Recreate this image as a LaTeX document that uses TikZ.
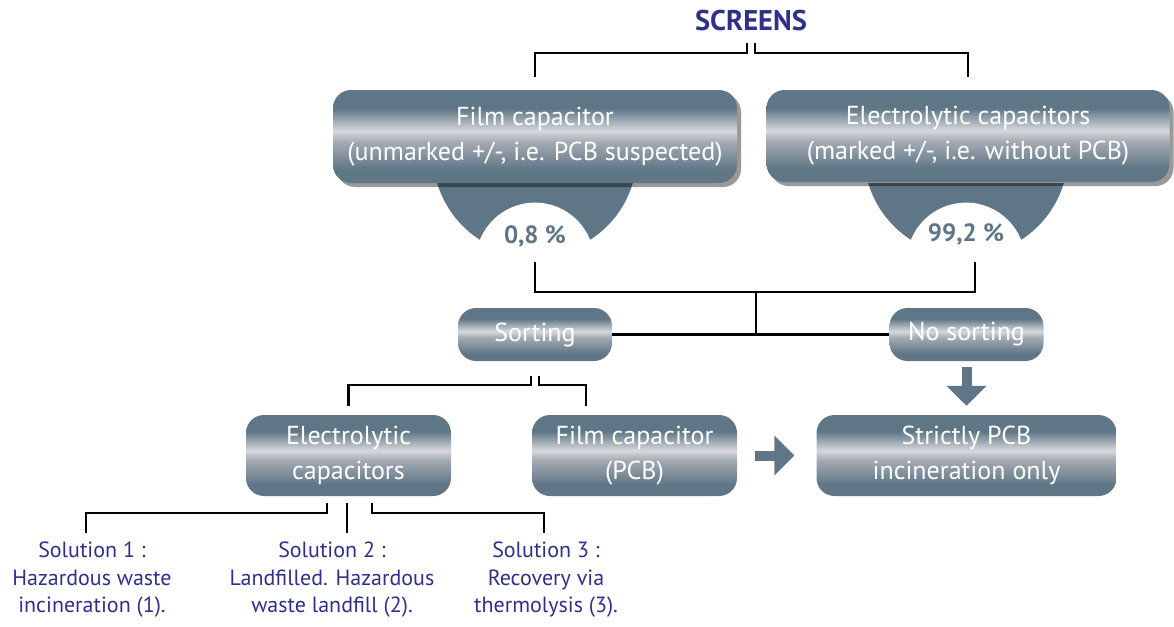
\documentclass[tikz,border=0pt]{standalone}
\usepackage{fontspec}
\setmainfont{PT Sans}
\usetikzlibrary{arrows.meta, positioning, shadows}

\definecolor{slate}{HTML}{5F7686}
\definecolor{silver}{HTML}{D6D8DC}
\definecolor{steel}{HTML}{A3AAB2}
\definecolor{navy}{HTML}{2E3187}

\pgfdeclareverticalshading{capshade}{100bp}{color(0bp)=(slate); color(32bp)=(slate); color(47bp)=(steel); color(53bp)=(silver); color(65bp)=(slate); color(100bp)=(slate)}

\tikzset{
  capbox/.style={rectangle, rounded corners=18pt, shading=capshade, text=white, align=center, inner sep=0pt, font=\fontsize{26}{35}\selectfont},
  topbox/.style={capbox, drop shadow={shadow xshift=4pt, shadow yshift=-4pt, opacity=0.4, fill=black}},
  link/.style={line width=2.8pt},
  bigarrow/.style={draw=slate, line width=10pt, -{Triangle[width=39pt,length=20pt]}},
  pct/.style={text=slate, font=\bfseries\fontsize{25}{25}\selectfont},
  solution/.style={text=navy, align=center, font=\fontsize{22}{27.5}\selectfont}
}

\begin{document}
\begin{tikzpicture}[x=1pt, y=1pt]
\useasboundingbox (0,0) rectangle (1174,-626);

\node[text=navy, font=\bfseries\fontsize{28.5}{28.5}\selectfont] (screens) at (751,-21) {SCREENS};

% half discs under the two top boxes
\begin{scope}
\clip (300,-183) rectangle (1174,-330);
\fill[slate] (535,-154) circle[radius=102pt];
\fill[slate] (966,-154) circle[radius=102pt];
\end{scope}
\fill[white] (535,-262) circle[radius=59.4pt];
\fill[white] (966,-262) circle[radius=59.4pt];

\node[topbox, minimum width=404pt, minimum height=93pt] (film) at (535,-136.5) {Film capacitor\\(unmarked +/-, i.e. PCB suspected)};
\node[topbox, minimum width=403pt, minimum height=92pt] (elec) at (968,-136) {Electrolytic capacitors\\(marked +/-, i.e. without PCB)};

\node[pct] (pctL) at (535,-236) {0,8 \%};
\node[pct] (pctR) at (966,-234) {99,2 \%};

\node[capbox, minimum width=154pt, minimum height=53pt] (sorting) at (535,-334.5) {Sorting};
\node[capbox, minimum width=154pt, minimum height=53pt] (nosort) at (966.5,-334.5) {No sorting};

\node[capbox, minimum width=205pt, minimum height=81pt] (elecsub) at (348.5,-455.5) {Electrolytic\\capacitors};
\node[capbox, minimum width=205pt, minimum height=81pt] (pcb) at (634.5,-455.5) {Film capacitor\\(PCB)};
\node[capbox, minimum width=300pt, minimum height=81pt] (strict) at (966.5,-455.5) {Strictly PCB\\incineration only};

\node[solution] (sol1) at (92,-580) {Solution 1 :\\Hazardous waste\\incineration (1).};
\node[solution] (sol2) at (332,-580) {Solution 2 :\\Landfilled. Hazardous\\waste landfill (2).};
\node[solution] (sol3) at (546,-580) {Solution 3 :\\Recovery via\\thermolysis (3).};

\coordinate (scrL) at (747,-43);
\coordinate (scrR) at (755,-43);
\coordinate (pctLend) at (535,-262);
\coordinate (pctRend) at (975,-262);
\coordinate (split) at (756,-292);
\coordinate (sortL) at (531,-376);
\coordinate (sortR) at (539,-376);
\coordinate (pcbIn) at (586,-406);
\coordinate (eL) at (327,-503);
\coordinate (eM) at (347,-503);
\coordinate (eR) at (372,-503);
\coordinate (sol1in) at (86,-533);
\coordinate (sol2in) at (347,-533);
\coordinate (sol3in) at (544,-533);

\draw[link] (scrL) -- ++(0,-10) -| ([yshift=13pt]film.north);
\draw[link] (scrR) -- ++(0,-10) -| ([yshift=13pt]elec.north);

\draw[link] (pctLend) |- (split) -| (pctRend);
\draw[link] (split) -- (split |- sorting.east);
\draw[link] (sorting.east) -- (nosort.west);

\draw[link] (sortL) -- ++(0,-9) -| ([yshift=9pt]elecsub.north);
\draw[link] (sortR) -- ++(0,-9) -| (pcbIn);

\draw[link] (eL) -- ++(0,-10) -| (sol1in);
\draw[link] (eM) -- (sol2in);
\draw[link] (eR) -- ++(0,-10) -| (sol3in);

\draw[bigarrow] ([xshift=18pt]pcb.east) -- ([xshift=-22pt]strict.west);
\draw[bigarrow] ([yshift=-6pt]nosort.south) -- ([yshift=9pt]strict.north);

\end{tikzpicture}
\end{document}
